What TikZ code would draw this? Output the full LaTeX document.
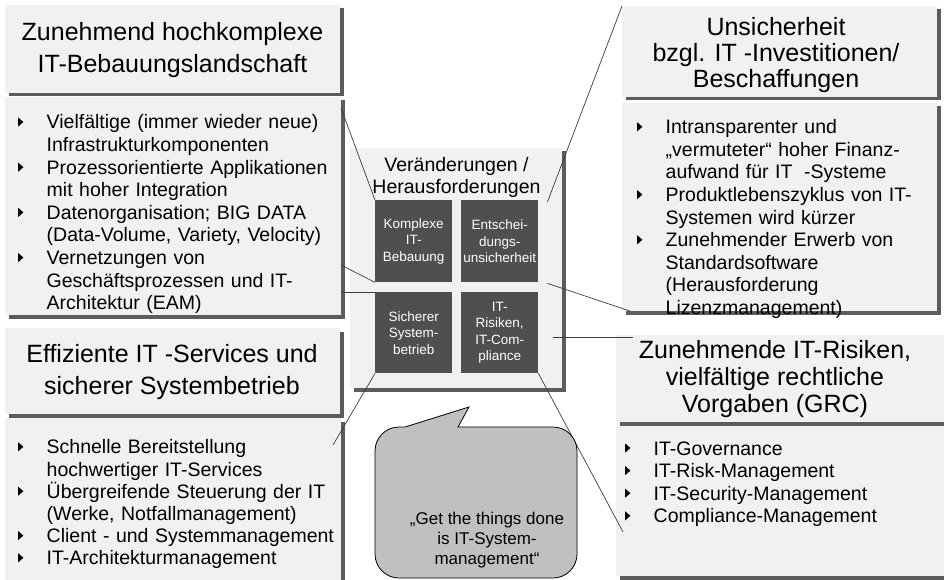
\documentclass[tikz,border=0pt]{standalone}
\usepackage{fontspec}
\setmainfont{Liberation Sans}
\usetikzlibrary{shadows,calc}

\definecolor{panel}{HTML}{F1F1F1}
\definecolor{shade}{HTML}{5C5C5C}
\definecolor{tilegray}{HTML}{4F4F4F}
\definecolor{bubblefill}{HTML}{C0C0C0}
\definecolor{linkcol}{HTML}{3C3C3C}

% bullet lists with a small black triangle and hanging indent
\newlength{\itmind}\setlength{\itmind}{28.5pt}
\newcommand{\bul}{\tikz[baseline=0pt,x=1pt,y=1pt]\fill[black] (0,2.5)--(5.2,7)--(0,11.5)--cycle;}
\newcommand{\itm}[1]{\par\noindent\hangindent=\itmind\hangafter=1\strut\makebox[\itmind][l]{\bul}#1\par}

\tikzset{
  box/.style={rectangle, inner sep=0pt, outer sep=0pt, anchor=north west, fill=panel,
    general shadow={fill=shade, shadow xshift=3.5pt, shadow yshift=-3.5pt}},
  headtext/.style={align=center, inner sep=0pt, font=\fontsize{25}{32}\selectfont},
  listtext/.style={anchor=north west, inner sep=0pt, text width=330pt, align=left,
    font=\fontsize{19.5}{22.6}\selectfont},
  tile/.style={rectangle, fill=tilegray, text=white, inner sep=0pt, minimum width=77pt,
    minimum height=82pt, anchor=north west, align=center, font=\fontsize{13.5}{16.5}\selectfont},
  link/.style={draw=linkcol, line width=0.7pt},
  bubble/.style={fill=bubblefill, draw=black, line width=0.8pt},
}

\begin{document}
\begin{tikzpicture}[x=1pt, y=-1pt]
\useasboundingbox (0,0) rectangle (944,580);
\fill[white] (0,0) rectangle (944,580);
\clip (0,0) rectangle (944,580);

% ---------- top left ----------
\node[box, minimum width=335pt, minimum height=88pt] (hdrTL) at (5,5) {};
\node[headtext] (hdrTLtext) at (172.5,50) {Zunehmend hochkomplexe\\IT-Bebauungslandschaft};
\node[box, minimum width=336pt, minimum height=218pt] (listTL) at (5,97) {};
\node[listtext] (listTLtext) at (18,106.2) {%
  \itm{Vielfältige (immer wieder neue)\newline Infrastrukturkomponenten}%
  \itm{Prozessorientierte Applikationen\newline mit hoher Integration}%
  \itm{Datenorganisation; BIG DATA\newline (Data-Volume, Variety, Velocity)}%
  \itm{Vernetzungen von\newline Geschäftsprozessen und IT-\newline Architektur (EAM)}};

% ---------- bottom left ----------
\node[box, minimum width=335pt, minimum height=86pt] (hdrBL) at (5,328) {};
\node[headtext] (hdrBLtext) at (172,372) {Effiziente IT -Services und\\sicherer Systembetrieb};
\node[box, minimum width=336pt, minimum height=200pt] (listBL) at (5,418) {};
\node[listtext, font=\fontsize{19.5}{22.2}\selectfont] (listBLtext) at (18,431.4) {%
  \itm{Schnelle Bereitstellung\newline hochwertiger IT-Services}%
  \itm{Übergreifende Steuerung der IT\newline (Werke, Notfallmanagement)}%
  \itm{Client - und Systemmanagement}%
  \itm{IT-Architekturmanagement}};

% ---------- top right ----------
\node[box, minimum width=315pt, minimum height=91pt] (hdrTR) at (622,6) {};
\node[headtext, font=\fontsize{25}{26}\selectfont] (hdrTRtext) at (776,55)
  {Unsicherheit\\bzgl. IT -Investitionen/\\Beschaffungen};
\node[box, minimum width=315pt, minimum height=208pt] (listTR) at (622,103) {};
\node[listtext] (listTRtext) at (637,111) {%
  \itm{Intransparenter und\newline „vermuteter“ hoher Finanz-\newline aufwand für IT\hspace{0.6em}-Systeme}%
  \itm{Produktlebenszyklus von IT-\newline Systemen wird kürzer}%
  \itm{Zunehmender Erwerb von\newline Standardsoftware\newline (Herausforderung\newline Lizenzmanagement)}};

% ---------- bottom right ----------
\node[box, minimum width=340pt, minimum height=87pt] (hdrBR) at (616,335) {};
\node[headtext, font=\fontsize{25}{27}\selectfont] (hdrBRtext) at (775,379)
  {Zunehmende IT-Risiken,\\vielfältige rechtliche\\Vorgaben (GRC)};
\node[box, minimum width=340pt, minimum height=150pt] (listBR) at (616,426) {};
\node[listtext] (listBRtext) at (625,432.2) {%
  \itm{IT-Governance}%
  \itm{IT-Risk-Management}%
  \itm{IT-Security-Management}%
  \itm{Compliance-Management}};

% ---------- centre ----------
\node[box, minimum width=212pt, minimum height=240pt] (hub) at (350,148) {};
\node[inner sep=0pt, align=center, font=\fontsize{19.5}{21.5}\selectfont] (hubtitle) at (456.5,177.5)
  {Veränderungen /\\Herausforderungen};
\node[tile] (tKB) at (375,200) {Komplexe\\IT-\\Bebauung};
\node[tile] (tEU) at (461,200) {Entschei-\\dungs-\\unsicherheit};
\node[tile, minimum height=81pt] (tSB) at (375,292) {Sicherer\\System-\\betrieb};
\node[tile, minimum height=81pt] (tIR) at (461,292) {IT-\\Risiken,\\IT-Com-\\pliance};

% ---------- connectors ----------
\draw[link] ($(listTL.north east)+(0,11)$) -- (tKB.north west);
\draw[link] ($(listTL.north east)+(0,168)$) -- (tKB.south west);
\draw[link] (tSB.north west) -- (tSB.north west -| listTL.east);
\coordinate (blEnd) at ($(listBL.north east)+(-8,27)$);
\draw[link] (tSB.south west) -- (blEnd);
\draw[link] ($(tEU.north east)+(9,2)$) -- (hdrTR.north west);
\coordinate (trEnd) at ($(listTR.south west)+(8,0)$);
\draw[link] ($(tEU.south east)+(9,1)$) -- (trEnd);
\coordinate (brEnd) at ($(hdrBR.north west)+(17,2)$);
\draw[link] ($(brEnd -| tIR.east)+(15,0)$) -- (brEnd);
\coordinate (brLow) at ($(listBR.north west)+(7,106)$);
\draw[link] (tIR.south east) -- (brLow);

% ---------- speech bubble ----------
\draw[bubble] (405,427) -- (469,407) -- (458,427) -- (553,427)
  .. controls (566.3,427) and (577,437.7) .. (577,451) -- (577,554)
  .. controls (577,567.3) and (566.3,578) .. (553,578) -- (399,578)
  .. controls (385.7,578) and (375,567.3) .. (375,554) -- (375,451)
  .. controls (375,437.7) and (385.7,427) .. (399,427) -- cycle;
\node[inner sep=0pt, align=center, font=\fontsize{17}{20}\selectfont] (quote) at (487,540)
  {„Get the things done\\is IT-System-\\management“};
\end{tikzpicture}
\end{document}
